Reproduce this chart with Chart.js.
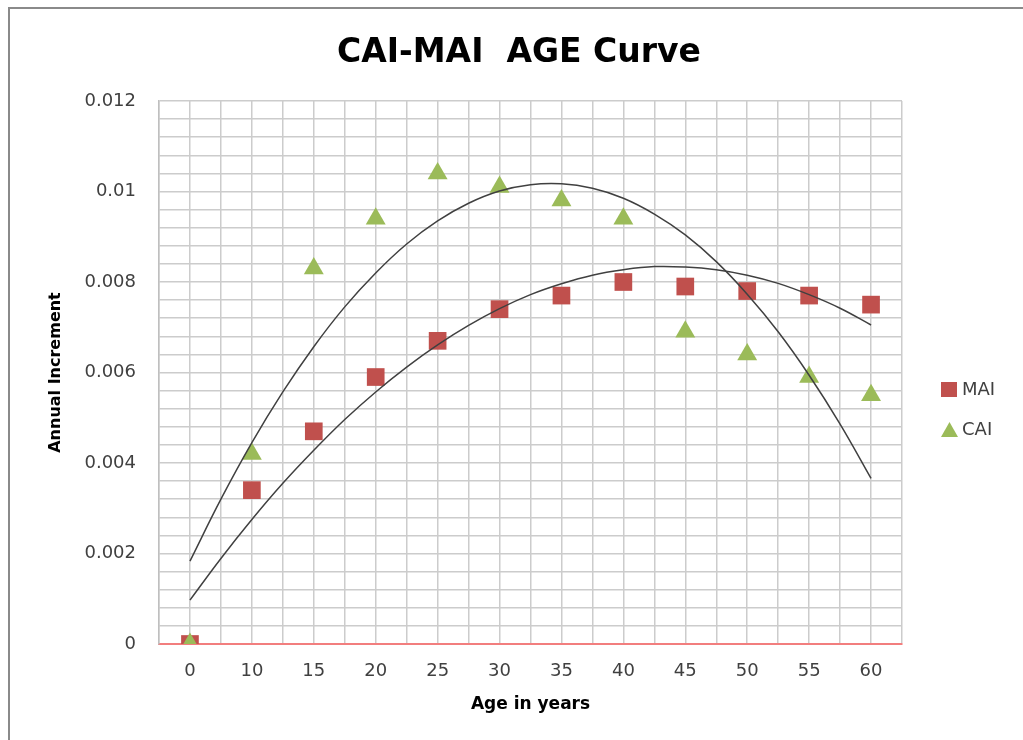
<!DOCTYPE html>
<html>
<head>
<meta charset="utf-8">
<script src="https://cdn.jsdelivr.net/npm/chart.js@4.4.1/dist/chart.umd.min.js"></script>
<style>
  html, body { margin: 0; padding: 0; background: #fff; overflow: hidden; }
  canvas { display: block; }
</style>
</head>
<body>
<canvas id="ageChart" width="1023" height="740"></canvas>
<script>
// Chart data
const chartTitle = 'CAI-MAI  AGE Curve';
const ageLabels = ['0', '10', '15', '20', '25', '30', '35', '40', '45', '50', '55', '60'];
const maiValues = [0, 0.0034, 0.0047, 0.0059, 0.0067, 0.0074, 0.0077, 0.0080, 0.0079, 0.0078, 0.0077, 0.0075];
const caiValues = [0, 0.0042, 0.0083, 0.0094, 0.0104, 0.0101, 0.0098, 0.0094, 0.0069, 0.0064, 0.0059, 0.0055];
const yTickLabels = ['0', '0.002', '0.004', '0.006', '0.008', '0.01', '0.012'];

// Trend curves, sampled every half category step
const trendX = [0, 0.5, 1, 1.5, 2, 2.5, 3, 3.5, 4, 4.5, 5, 5.5, 6, 6.5, 7, 7.5, 8, 8.5, 9, 9.5, 10, 10.5, 11];
const maiTrend = [0.00097, 0.00189, 0.00275, 0.00355, 0.00428, 0.00496, 0.00557, 0.00612, 0.00661, 0.00704, 0.00741, 0.00772,
                  0.00796, 0.00815, 0.00827, 0.00834, 0.00833, 0.00827, 0.00815, 0.00797, 0.00772, 0.00742, 0.00705];
const caiTrend = [0.00183, 0.0032, 0.00445, 0.00557, 0.00657, 0.00745, 0.0082, 0.00884, 0.00935, 0.00974, 0.01001, 0.01015,
                  0.01017, 0.01007, 0.00985, 0.0095, 0.00904, 0.00845, 0.00773, 0.0069, 0.00594, 0.00486, 0.00366];

const maiColor = '#C0504D';
const caiColor = '#9BBB59';
const trendColor = '#404040';

const toPoints = (xs, ys) => ys.map((y, i) => ({ x: xs[i], y: y }));
const idx = ageLabels.map((l, i) => i);

// outer frame, title + legend
const extrasPlugin = {
    id: 'extras',
    beforeDraw(chart) {
        const ctx = chart.ctx;
        ctx.save();
        ctx.strokeStyle = '#8a8a8a';
        ctx.lineWidth = 2;
        ctx.beginPath();
        ctx.moveTo(9, chart.height);
        ctx.lineTo(9, 8);
        ctx.lineTo(chart.width, 8);
        ctx.stroke();
        ctx.restore();
    },
    afterDraw(chart) {
        const ctx = chart.ctx;
        ctx.save();
        ctx.fillStyle = '#000';
        ctx.font = 'bold 33px "DejaVu Sans"';
        ctx.textAlign = 'center';
        ctx.textBaseline = 'alphabetic';
        ctx.fillText(chartTitle, 519, 62);

        // legend
        ctx.font = '18px "DejaVu Sans"';
        ctx.textAlign = 'left';
        ctx.textBaseline = 'middle';
        ctx.fillStyle = maiColor;
        ctx.fillRect(941, 382, 16, 15);
        ctx.fillStyle = caiColor;
        ctx.beginPath();
        ctx.moveTo(949.5, 422);
        ctx.lineTo(958, 437);
        ctx.lineTo(941, 437);
        ctx.closePath();
        ctx.fill();
        ctx.fillStyle = '#404040';
        ctx.fillText('MAI', 962, 390);
        ctx.fillText('CAI', 962, 430);
        ctx.restore();
    }
};

const ctx = document.getElementById('ageChart').getContext('2d');
new Chart(ctx, {
    type: 'scatter',
    data: {
        datasets: [
            {
                label: 'MAI',
                data: toPoints(idx, maiValues),
                pointStyle: 'rect',
                pointRadius: 12.5,
                pointHoverRadius: 12.5,
                backgroundColor: maiColor,
                borderColor: maiColor,
                borderWidth: 0,
                order: 2
            },
            {
                label: 'CAI',
                data: toPoints(idx, caiValues),
                pointStyle: 'triangle',
                pointRadius: 11.5,
                pointHoverRadius: 11.5,
                backgroundColor: caiColor,
                borderColor: caiColor,
                borderWidth: 0,
                order: 1
            },
            {
                type: 'line',
                label: 'MAI trend',
                data: toPoints(trendX, maiTrend),
                borderColor: trendColor,
                borderWidth: 1.5,
                pointRadius: 0,
                fill: false,
                tension: 0.4,
                order: 0
            },
            {
                type: 'line',
                label: 'CAI trend',
                data: toPoints(trendX, caiTrend),
                borderColor: trendColor,
                borderWidth: 1.5,
                pointRadius: 0,
                fill: false,
                tension: 0.4,
                order: 0
            }
        ]
    },
    options: {
        responsive: false,
        animation: false,
        layout: { padding: { left: 0, top: 101, right: 121, bottom: 0 } },
        plugins: {
            legend: { display: false },
            title: { display: false },
            tooltip: { enabled: false }
        },
        scales: {
            x: {
                type: 'linear',
                min: -0.5,
                max: 11.5,
                afterFit: (scale) => { scale.height = 96; },
                grid: { color: '#cccccc', lineWidth: 1.5, drawTicks: false },
                border: { color: '#f27e7e', width: 2 },
                ticks: {
                    stepSize: 0.5,
                    autoSkip: false,
                    maxRotation: 0,
                    padding: 17,
                    color: '#404040',
                    font: { family: 'DejaVu Sans', size: 18 },
                    callback: (v) => Math.abs(v - Math.round(v)) < 1e-6 ? (ageLabels[Math.round(v)] ?? '') : ''
                },
                title: {
                    display: true,
                    text: 'Age in years',
                    color: '#000',
                    font: { family: 'DejaVu Sans', size: 17, weight: 'bold' },
                    padding: { top: 0, bottom: 25 }
                }
            },
            y: {
                min: 0,
                max: 0.012,
                afterFit: (scale) => { scale.width = 159; },
                grid: { color: '#cccccc', lineWidth: 1.5, drawTicks: false },
                border: { color: '#bfbfbf', width: 1.5 },
                ticks: {
                    stepSize: 0.0004,
                    autoSkip: false,
                    padding: 23,
                    color: '#404040',
                    font: { family: 'DejaVu Sans', size: 18 },
                    callback: (v) => {
                        const k = v / 0.002;
                        return Math.abs(k - Math.round(k)) < 1e-6 ? yTickLabels[Math.round(k)] : '';
                    }
                },
                title: {
                    display: true,
                    text: 'Annual Increment',
                    color: '#000',
                    font: { family: 'DejaVu Sans', size: 16, weight: 'bold' },
                    padding: { top: 46, bottom: 0 }
                }
            }
        }
    },
    plugins: [extrasPlugin]
});
</script>
</body>
</html>
